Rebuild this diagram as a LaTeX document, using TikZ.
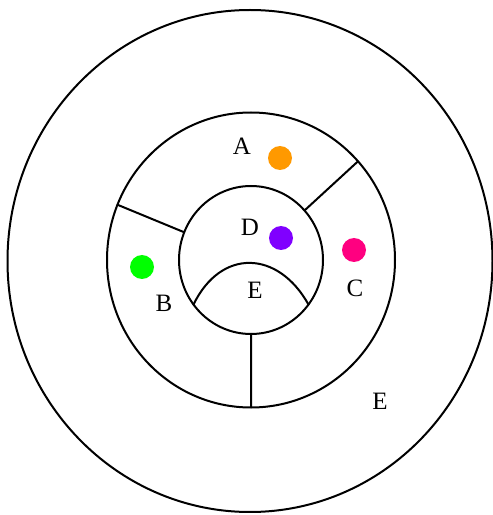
\documentclass[tikz,border=0pt]{standalone}
\usepackage{fontspec}
\setmainfont{Liberation Serif}
\usetikzlibrary{calc}
\definecolor{dotorange}{RGB}{255,153,0}
\definecolor{dotviolet}{RGB}{128,0,255}
\definecolor{dotpink}{RGB}{255,0,128}
\definecolor{dotgreen}{RGB}{0,255,0}
\begin{document}
\begin{tikzpicture}[x=0.5pt, y=0.5pt, line width=1pt, line join=round, line cap=round, font=\fontsize{12.5}{14}\selectfont]
	\useasboundingbox (0,0) rectangle (493,515);
	\def \rx{72} \def \ry{74} \def \Rx{144} \def \Ry{147.5} \def \dotr{12}
	\coordinate (O) at (251,255);
	\coordinate (Oe) at (250,254);
	\coordinate (Ul) at ($(O)+({\Rx*cos(158)},{\Ry*sin(158)})$);
	\coordinate (ul) at ($(O)+({\rx*cos(158)},{\ry*sin(158)})$);
	\coordinate (Ur) at ($(O)+({\Rx*cos(42)},{\Ry*sin(42)})$);
	\coordinate (ur) at ($(O)+({\rx*cos(42)},{\ry*sin(42)})$);
	\coordinate (Db) at ($(O)+(0,-\Ry)$);
	\coordinate (db) at ($(O)+(0,-\ry)$);
	\coordinate (Hl) at ($(O)+({\rx*cos(217)},{\ry*sin(217)})$);
	\coordinate (Hr) at ($(O)+({\rx*cos(323)},{\ry*sin(323)})$);
	
	\draw (Oe) ellipse [x radius=242.5, y radius=251];
	\draw (O) ellipse [x radius=\Rx, y radius=\Ry];
	\draw (O) ellipse [x radius=\rx, y radius=\ry];
	\draw (Ul) -- (ul) (Ur) -- (ur) (Db) -- (db);
	\draw (Hl) .. controls (221,267) and (278,265) .. (Hr);
	
	\fill[dotorange] (280,357) circle (\dotr);
	\fill[dotviolet] (281,277) circle (\dotr);
	\fill[dotpink] (354,265) circle (\dotr);
	\fill[dotgreen] (142,248) circle (\dotr);
	
	\node (A) at (242,369) {A};
	\node (B) at (164,212) {B};
	\node (C) at (355,227) {C};
	\node (D) at (250,288) {D};
	\node (Ei) at (255,225) {E};
	\node (Eo) at (380,114) {E};
\end{tikzpicture}
\end{document}
